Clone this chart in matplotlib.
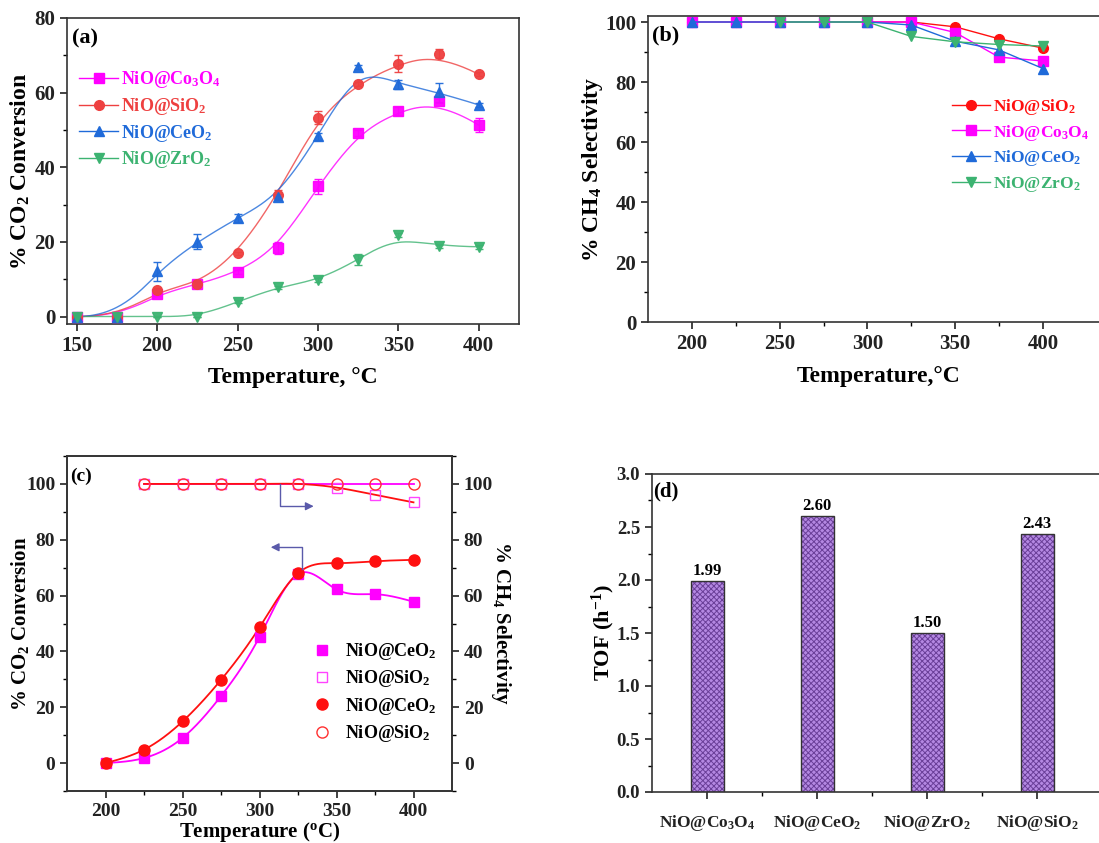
import numpy as np
import matplotlib
matplotlib.use("Agg")
import matplotlib.pyplot as plt
from matplotlib.lines import Line2D

plt.rcParams['font.family'] = ['Liberation Serif', 'DejaVu Serif']
plt.rcParams['font.weight'] = 'bold'
plt.rcParams['axes.labelweight'] = 'bold'
plt.rcParams['mathtext.fontset'] = 'custom'
plt.rcParams['mathtext.rm'] = 'Liberation Serif:bold'
plt.rcParams['mathtext.it'] = 'Liberation Serif:bold:italic'
plt.rcParams['mathtext.bf'] = 'Liberation Serif:bold'
plt.rcParams['hatch.linewidth'] = 0.7

# ---------------- data ----------------
temp_a = [150, 175, 200, 225, 250, 275, 300, 325, 350, 375, 400]
conv_co3o4 = [0, 0, 6.0, 8.6, 11.9, 18.4, 34.9, 49.1, 55.1, 57.8, 51.3]
err_co3o4 = [0, 0, 0.5, 0.8, 0.5, 1.6, 2.0, 0.8, 1.0, 0.6, 1.8]
conv_sio2 = [0, 0, 7.1, 8.7, 16.9, 32.7, 53.3, 62.3, 67.8, 70.4, 64.9]
err_sio2 = [0, 0, 0.5, 0.5, 0.5, 1.2, 1.7, 0.5, 2.3, 1.2, 0.5]
conv_ceo2 = [0, 0, 12.1, 20.0, 26.4, 32.1, 48.3, 66.8, 62.2, 60.1, 56.7]
err_ceo2 = [0, 0, 2.5, 2.0, 1.2, 0.8, 1.0, 0.5, 1.3, 2.5, 0.6]
conv_zro2 = [0, 0, 0, 0, 3.9, 7.9, 9.7, 15.2, 21.8, 18.8, 18.7]
err_zro2 = [0, 0, 0, 0, 0.4, 0.4, 0.5, 1.5, 0.6, 0.5, 0.5]

temp_b = [200, 225, 250, 275, 300, 325, 350, 375, 400]
sel_sio2 = [100, 100, 100, 100, 100, 100, 98.4, 94.4, 91.3]
sel_co3o4 = [100, 100, 100, 100, 100, 100, 96.5, 88.3, 87.0]
sel_ceo2 = [100, 100, 100, 100, 100, 99.0, 93.6, 90.7, 84.5]
temp_b_zro2 = [250, 275, 300, 325, 350, 375, 400]
sel_zro2 = [100, 100, 100, 95.2, 93.4, 92.5, 92.0]

temp_c = [200, 225, 250, 275, 300, 325, 350, 375, 400]
conv_c_sq = [0, 1.8, 9.0, 24.0, 45.2, 67.7, 62.2, 60.5, 57.8]
conv_c_ci = [0, 4.8, 14.9, 29.8, 48.6, 68.0, 71.6, 72.3, 72.8]
temp_c_sel = [225, 250, 275, 300, 325, 350, 375, 400]
sel_c_sq = [100, 100, 100, 100, 100, 98.7, 96.1, 93.4]
sel_c_ci = [100, 100, 100, 100, 100, 100, 100, 100]

catalysts_d = [r'NiO@Co$_\mathrm{3}$O$_\mathrm{4}$', r'NiO@CeO$_\mathrm{2}$',
               r'NiO@ZrO$_\mathrm{2}$', r'NiO@SiO$_\mathrm{2}$']
tof_d = [1.99, 2.60, 1.50, 2.43]
tof_labels = ['1.99', '2.60', '1.50', '2.43']

lab_co3o4 = r'NiO@Co$_\mathrm{3}$O$_\mathrm{4}$'
lab_sio2 = r'NiO@SiO$_\mathrm{2}$'
lab_ceo2 = r'NiO@CeO$_\mathrm{2}$'
lab_zro2 = r'NiO@ZrO$_\mathrm{2}$'


# ---------------- helpers ----------------
def bspline(xs, ys, num=400, k=3):
    P = np.column_stack([xs, ys]).astype(float)
    n = len(P)
    inner = np.arange(1, n - k)
    knots = np.concatenate([np.zeros(k + 1), inner, np.full(k + 1, n - k)]).astype(float)
    t = np.linspace(0, n - k, num)
    t[-1] -= 1e-9
    B = np.zeros((num, len(knots) - 1))
    for i in range(len(knots) - 1):
        B[:, i] = (t >= knots[i]) & (t < knots[i + 1])
    for d in range(1, k + 1):
        Bn = np.zeros((num, len(knots) - 1 - d))
        for i in range(len(knots) - 1 - d):
            a = knots[i + d] - knots[i]
            b = knots[i + d + 1] - knots[i + 1]
            term = 0
            if a > 0:
                term = term + (t - knots[i]) / a * B[:, i]
            if b > 0:
                term = term + (knots[i + d + 1] - t) / b * B[:, i + 1]
            Bn[:, i] = term
        B = Bn
    C = B @ P
    return C[:, 0], C[:, 1]


def cspline(xs, ys, num=400):
    x = np.asarray(xs, float)
    y = np.asarray(ys, float)
    n = len(x)
    h = np.diff(x)
    A = np.zeros((n, n))
    r = np.zeros(n)
    A[0, 0] = 1
    A[-1, -1] = 1
    for i in range(1, n - 1):
        A[i, i - 1] = h[i - 1]
        A[i, i] = 2 * (h[i - 1] + h[i])
        A[i, i + 1] = h[i]
        r[i] = 3 * ((y[i + 1] - y[i]) / h[i] - (y[i] - y[i - 1]) / h[i - 1])
    c = np.linalg.solve(A, r)
    b = (y[1:] - y[:-1]) / h - h * (2 * c[:-1] + c[1:]) / 3
    d = (c[1:] - c[:-1]) / (3 * h)
    xx = np.linspace(x[0], x[-1], num)
    idx = np.clip(np.searchsorted(x, xx) - 1, 0, n - 2)
    dx = xx - x[idx]
    yy = y[idx] + b[idx] * dx + c[idx] * dx ** 2 + d[idx] * dx ** 3
    return xx, yy


def style_ax(ax, fs=14):
    for s in ax.spines.values():
        s.set_linewidth(1.2)
        s.set_color('#333333')
    ax.tick_params(direction='out', length=5, width=1.2, labelsize=fs, colors='#222222')
    ax.tick_params(which='minor', direction='out', length=3, width=1.0)


fig = plt.figure(figsize=(10.99, 8.43), dpi=100)
W, H = 1099, 843


def axes_px(l, t, r, b):
    return fig.add_axes([l / W, 1 - b / H, (r - l) / W, (b - t) / H])


# ---------------- panel (a) ----------------
axa = axes_px(67, 18, 519, 324)
series_a = [
    (conv_co3o4, err_co3o4, '#FF00FF', 's', lab_co3o4),
    (conv_sio2, err_sio2, '#EE4040', 'o', lab_sio2),
    (conv_ceo2, err_ceo2, '#1F6AD9', '^', lab_ceo2),
    (conv_zro2, err_zro2, '#3CB371', 'v', lab_zro2),
]
handles_a = []
for ys, es, col, mk, lab in series_a:
    sx, sy = bspline(temp_a, ys)
    axa.plot(sx, sy, color=col, lw=1.0, alpha=0.8)
    axa.errorbar(temp_a, ys, yerr=es, fmt=mk, color=col, ms=7, capsize=3,
                 elinewidth=1.0, ecolor=col, alpha=0.95, zorder=3)
    handles_a.append(Line2D([], [], color=col, marker=mk, ms=7, lw=1.0))
axa.set_xlim(144, 425)
axa.set_ylim(-2, 80)
axa.set_xticks([150, 200, 250, 300, 350, 400])
axa.set_yticks([0, 20, 40, 60, 80])
axa.set_yticks([10, 30, 50, 70], minor=True)
style_ax(axa, 15)
axa.set_xlabel('Temperature, °C', fontsize=17, labelpad=8)
axa.set_ylabel(r'% CO$_\mathrm{2}$ Conversion', fontsize=17, labelpad=2)
axa.text(0.012, 0.965, '(a)', transform=axa.transAxes, fontsize=16, va='top', ha='left')
leg = axa.legend(handles_a, [s[4] for s in series_a], loc='upper left',
                 bbox_to_anchor=(0.026, 0.833), frameon=False, fontsize=13,
                 handlelength=2.2, labelspacing=0.32, handletextpad=0.15,
                 borderaxespad=0, borderpad=0)
for txt, s in zip(leg.get_texts(), series_a):
    txt.set_color(s[2])

# ---------------- panel (b) ----------------
wb = 262.5 * 1.755
axb = axes_px(648, 16, 648 + wb, 322)
series_b = [
    (temp_b, sel_sio2, '#FF1010', 'o', lab_sio2),
    (temp_b, sel_co3o4, '#FF00FF', 's', lab_co3o4),
    (temp_b, sel_ceo2, '#1F6AD9', '^', lab_ceo2),
    (temp_b_zro2, sel_zro2, '#3CB371', 'v', lab_zro2),
]
handles_b = []
for xs, ys, col, mk, lab in series_b:
    h, = axb.plot(xs, ys, color=col, marker=mk, ms=7, lw=1.0)
    handles_b.append(h)
axb.set_xlim(175, 437.5)
axb.set_ylim(0, 102)
axb.set_xticks([200, 250, 300, 350, 400])
axb.set_xticks([225, 275, 325, 375], minor=True)
axb.set_yticks([0, 20, 40, 60, 80, 100])
axb.set_yticks([10, 30, 50, 70, 90], minor=True)
style_ax(axb, 15)
axb.set_xlabel('Temperature,°C', fontsize=17, labelpad=9)
axb.set_ylabel(r'% CH$_\mathrm{4}$ Selectivity', fontsize=17, labelpad=0)
axb.text(0.008, 0.97, '(b)', transform=axb.transAxes, fontsize=16, va='top', ha='left')
legb = axb.legend(handles_b, [s[4] for s in series_b], loc='upper left',
                  bbox_to_anchor=((952 - 648) / wb, (322 - 97) / 306), frameon=False,
                  fontsize=12.5, handlelength=2.2, labelspacing=0.32, handletextpad=0.15,
                  borderaxespad=0, borderpad=0)
for txt, s in zip(legb.get_texts(), series_b):
    txt.set_color(s[2])

# ---------------- panel (c) ----------------
axc = axes_px(67, 456, 452, 791)
sx, sy = cspline(temp_c, conv_c_sq)
axc.plot(sx, sy, color='#FF00FF', lw=1.3)
sx, sy = cspline(temp_c, conv_c_ci)
axc.plot(sx, sy, color='#FF1010', lw=1.3)
h1, = axc.plot(temp_c, conv_c_sq, 's', color='#FF00FF', ms=7, ls='none')
h3, = axc.plot(temp_c, conv_c_ci, 'o', color='#FF1010', ms=8, ls='none')
axc.set_xlim(175, 425)
axc.set_ylim(-10, 110)
axc.set_xticks([200, 250, 300, 350, 400])
axc.set_xticks([225, 275, 325, 375], minor=True)
axc.set_yticks([0, 20, 40, 60, 80, 100])
axc.set_yticks([-10, 10, 30, 50, 70, 90, 110], minor=True)
style_ax(axc, 14)
axc.set_xlabel(r'Temperature ($^\mathrm{o}$C)', fontsize=15, labelpad=0)
axc.set_ylabel(r'% CO$_\mathrm{2}$ Conversion', fontsize=15, labelpad=-4)
axc.text(0.008, 0.965, '(c)', transform=axc.transAxes, fontsize=14, va='top', ha='left')

axc2 = axc.twinx()
sx, sy = cspline(temp_c_sel, sel_c_ci)
axc2.plot(sx, sy, color='#FF00FF', lw=1.3)
sx, sy = cspline(temp_c_sel, sel_c_sq)
axc2.plot(sx, sy, color='#FF1010', lw=1.3)
h2, = axc2.plot(temp_c_sel, sel_c_sq, 's', mfc='none', mec='#FF44FF', ms=7, mew=1.0, ls='none')
h4, = axc2.plot(temp_c_sel, sel_c_ci, 'o', mfc='none', mec='#FF3030', ms=8, mew=1.0, ls='none')
axc2.set_ylim(-10, 110)
axc2.set_yticks([0, 20, 40, 60, 80, 100])
axc2.set_yticks([-10, 10, 30, 50, 70, 90, 110], minor=True)
style_ax(axc2, 14)
axc2.set_ylabel(r'% CH$_\mathrm{4}$ Selectivity', fontsize=15, rotation=270, labelpad=14)

arrow_col = '#5A5AAA'
axc2.plot([313.5, 313.5, 330], [100, 92, 92], color=arrow_col, lw=1.0)
axc2.annotate('', xy=(337, 92), xytext=(329, 92),
              arrowprops=dict(arrowstyle='-|>', color=arrow_col, lw=1.0, mutation_scale=12))
axc.plot([327.3, 327.3, 312], [69.5, 77.3, 77.3], color=arrow_col, lw=1.0)
axc.annotate('', xy=(305.5, 77.3), xytext=(313, 77.3),
             arrowprops=dict(arrowstyle='-|>', color=arrow_col, lw=1.0, mutation_scale=12))

legc = axc.legend([h1, h2, h3, h4], [lab_ceo2, lab_sio2, lab_ceo2, lab_sio2],
                  loc='upper left', bbox_to_anchor=((313 - 67) / 385, (791 - 641) / 335),
                  frameon=False, fontsize=13, handlelength=1.0, labelspacing=0.35,
                  handletextpad=0.75, borderaxespad=0, borderpad=0)

# ---------------- panel (d) ----------------
axd = axes_px(652, 474, 652 + 4.2 * 110, 792)
xpos = np.arange(len(tof_d))
axd.bar(xpos, tof_d, width=0.3, color='#B488E2', edgecolor='#6A3F98', hatch='xxxxxx', lw=0)
axd.bar(xpos, tof_d, width=0.3, color='none', edgecolor='#333333', lw=1.0)
for xp, v, t in zip(xpos, tof_d, tof_labels):
    axd.text(xp, v + 0.02, t, ha='center', va='bottom', fontsize=12)
axd.set_xlim(-0.5, 3.7)
axd.set_ylim(0, 3.0)
axd.set_xticks(xpos)
axd.set_xticklabels(catalysts_d, fontsize=12.5)
axd.set_xticks([0.5, 1.5, 2.5], minor=True)
axd.set_yticks([0, 0.5, 1.0, 1.5, 2.0, 2.5, 3.0])
axd.set_yticks(np.arange(0.25, 3.0, 0.5), minor=True)
axd.yaxis.set_major_formatter(matplotlib.ticker.FormatStrFormatter('%.1f'))
style_ax(axd, 13.5)
axd.tick_params(axis='x', pad=10, labelsize=12.5)
axd.set_ylabel(r'TOF (h$^\mathrm{-1}$)', fontsize=16, labelpad=0)
axd.text(0.003, 0.975, '(d)', transform=axd.transAxes, fontsize=15, va='top', ha='left')

fig.savefig('out.png', dpi=100)
